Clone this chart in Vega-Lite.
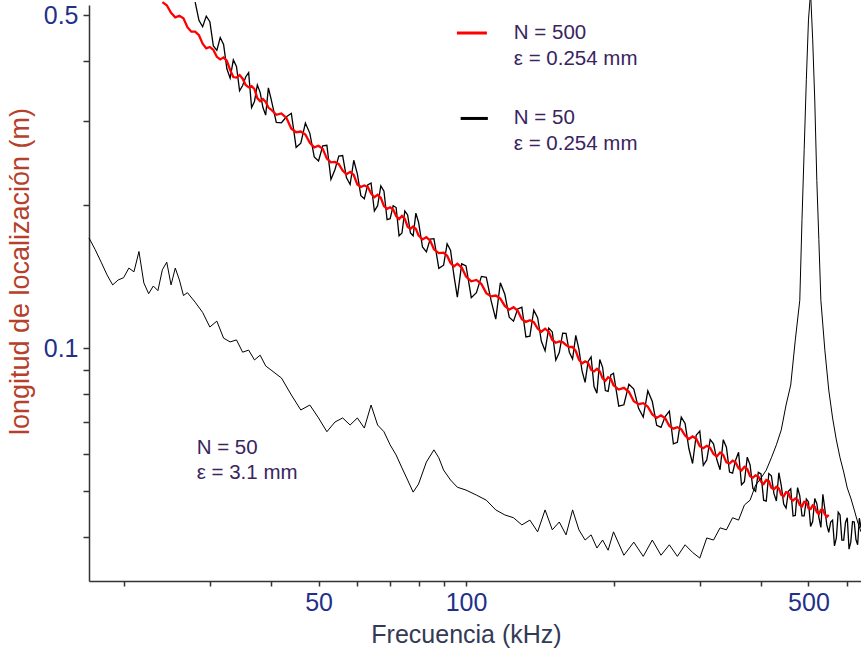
{
  "$schema": "https://vega.github.io/schema/vega-lite/v6.json",
  "width": 772,
  "height": 576,
  "autosize": {"type": "none"},
  "padding": {"left": 89, "top": 5, "right": 0, "bottom": 73},
  "background": "white",
  "config": {"view": {"stroke": null}, "font": "Liberation Sans"},
  "datasets": {
    "red": [
      {"f":24,"L":0.533},{"f":24.5,"L":0.525},{"f":25,"L":0.506},{"f":25.5,"L":0.495},{"f":26,"L":0.499},{"f":26.5,"L":0.493},{"f":27,"L":0.472},{"f":27.5,"L":0.462},{"f":28,"L":0.462},{"f":28.5,"L":0.454},{"f":29,"L":0.436},{"f":29.5,"L":0.426},{"f":30,"L":0.429},{"f":30.5,"L":0.423},{"f":31,"L":0.409},{"f":31.5,"L":0.404},{"f":32,"L":0.408},{"f":32.5,"L":0.401},{"f":33,"L":0.384},{"f":33.5,"L":0.371},{"f":34,"L":0.370},{"f":34.5,"L":0.3745},{"f":35,"L":0.368},{"f":35.5,"L":0.357},{"f":36,"L":0.353},{"f":36.5,"L":0.355},{"f":37,"L":0.350},{"f":37.5,"L":0.335},{"f":38,"L":0.330},{"f":38.5,"L":0.3335},{"f":39,"L":0.329},{"f":39.5,"L":0.320},{"f":40,"L":0.317},{"f":41,"L":0.309},{"f":42,"L":0.311},{"f":43,"L":0.3045},{"f":44,"L":0.289},{"f":45,"L":0.284},{"f":46,"L":0.285},{"f":47,"L":0.281},{"f":48,"L":0.270},{"f":49,"L":0.264},{"f":50,"L":0.266},{"f":51,"L":0.262},{"f":52,"L":0.250},{"f":53,"L":0.2455},{"f":54,"L":0.246},{"f":55,"L":0.2434},{"f":56,"L":0.236},{"f":57,"L":0.2317},{"f":58,"L":0.2345},{"f":59,"L":0.2309},{"f":60,"L":0.2205},{"f":61,"L":0.2179},{"f":62,"L":0.2196},{"f":63,"L":0.2181},{"f":64,"L":0.2113},{"f":65,"L":0.2074},{"f":66,"L":0.2098},{"f":67,"L":0.2067},{"f":68,"L":0.1987},{"f":69,"L":0.1961},{"f":70,"L":0.1975},{"f":71,"L":0.1954},{"f":72,"L":0.1894},{"f":73,"L":0.1866},{"f":74,"L":0.1894},{"f":75,"L":0.1868},{"f":76,"L":0.1798},{"f":77,"L":0.1781},{"f":78,"L":0.180},{"f":79,"L":0.1780},{"f":80,"L":0.1724},{"f":81.5,"L":0.1691},{"f":83,"L":0.1709},{"f":84.5,"L":0.1681},{"f":86,"L":0.1612},{"f":88,"L":0.1583},{"f":90,"L":0.1586},{"f":91.5,"L":0.1563},{"f":93,"L":0.1509},{"f":94.5,"L":0.1484},{"f":96,"L":0.1504},{"f":98,"L":0.1476},{"f":100,"L":0.1413},{"f":102.5,"L":0.1381},{"f":105,"L":0.139},{"f":107.5,"L":0.1363},{"f":110,"L":0.1304},{"f":112.5,"L":0.1284},{"f":115,"L":0.1289},{"f":117.5,"L":0.1270},{"f":120,"L":0.1226},{"f":122.5,"L":0.1204},{"f":125,"L":0.1218},{"f":127.5,"L":0.1198},{"f":130,"L":0.1149},{"f":132.5,"L":0.1135},{"f":135,"L":0.1144},{"f":137.5,"L":0.1133},{"f":140,"L":0.1099},{"f":142.5,"L":0.1082},{"f":145,"L":0.1098},{"f":147.5,"L":0.1082},{"f":150,"L":0.1040},{"f":152.5,"L":0.1026},{"f":155,"L":0.1032},{"f":157.5,"L":0.1029},{"f":160,"L":0.1015},{"f":162.5,"L":0.1005},{"f":165,"L":0.1005},{"f":167.5,"L":0.0985},{"f":170,"L":0.0945},{"f":172.5,"L":0.0928},{"f":175,"L":0.0938},{"f":177.5,"L":0.0930},{"f":180,"L":0.0900},{"f":182.5,"L":0.0893},{"f":185,"L":0.0904},{"f":187.5,"L":0.0893},{"f":190,"L":0.0864},{"f":192.5,"L":0.0853},{"f":195,"L":0.0868},{"f":197.5,"L":0.0862},{"f":200,"L":0.0835},{"f":205,"L":0.0818},{"f":210,"L":0.0825},{"f":215,"L":0.0809},{"f":220,"L":0.0773},{"f":225,"L":0.0762},{"f":230,"L":0.0766},{"f":235,"L":0.0753},{"f":240,"L":0.0725},{"f":245,"L":0.0713},{"f":250,"L":0.0722},{"f":255,"L":0.0712},{"f":260,"L":0.0686},{"f":265,"L":0.0677},{"f":270,"L":0.0682},{"f":275,"L":0.0675},{"f":280,"L":0.0655},{"f":285,"L":0.0644},{"f":290,"L":0.0652},{"f":295,"L":0.0645},{"f":300,"L":0.0622},{"f":305,"L":0.0616},{"f":310,"L":0.0623},{"f":315,"L":0.0617},{"f":320,"L":0.0599},{"f":325,"L":0.0592},{"f":330,"L":0.0603},{"f":335,"L":0.0596},{"f":340,"L":0.0575},{"f":345,"L":0.0572},{"f":350,"L":0.0580},{"f":355,"L":0.0575},{"f":360,"L":0.0559},{"f":365,"L":0.0553},{"f":370,"L":0.0563},{"f":375,"L":0.0557},{"f":380,"L":0.0538},{"f":385,"L":0.0534},{"f":390,"L":0.0540},{"f":395,"L":0.0537},{"f":400,"L":0.0524},{"f":405,"L":0.0518},{"f":410,"L":0.0528},{"f":415,"L":0.0525},{"f":420,"L":0.0509},{"f":425,"L":0.0505},{"f":430,"L":0.0511},{"f":435,"L":0.0507},{"f":440,"L":0.0492},{"f":445,"L":0.0488},{"f":450,"L":0.0498},{"f":455,"L":0.0496},{"f":460,"L":0.0482},{"f":465,"L":0.0478},{"f":470,"L":0.0483},{"f":475,"L":0.0480},{"f":480,"L":0.0468},{"f":485,"L":0.0465},{"f":490,"L":0.0475},{"f":495,"L":0.0474},{"f":500,"L":0.0461},{"f":505,"L":0.0459},{"f":510,"L":0.0467},{"f":515,"L":0.0464},{"f":520,"L":0.0452},{"f":525,"L":0.0448},{"f":530,"L":0.0457},{"f":535,"L":0.0457},{"f":540,"L":0.0447},{"f":545,"L":0.0442},{"f":550,"L":0.0446}
    ],
    "fine": [
      {"f":28,"L":0.533},{"f":28.5,"L":0.488},{"f":29,"L":0.473},{"f":29.5,"L":0.498},{"f":30,"L":0.485},{"f":30.5,"L":0.431},{"f":31,"L":0.422},{"f":31.5,"L":0.449},{"f":32,"L":0.4345},{"f":32.5,"L":0.386},{"f":33,"L":0.369},{"f":33.5,"L":0.403},{"f":34,"L":0.3906},{"f":34.5,"L":0.347},{"f":35,"L":0.356},{"f":35.5,"L":0.371},{"f":36,"L":0.379},{"f":36.5,"L":0.320},{"f":37,"L":0.3296},{"f":37.5,"L":0.357},{"f":38,"L":0.3444},{"f":38.5,"L":0.320},{"f":39,"L":0.3086},{"f":39.5,"L":0.352},{"f":40,"L":0.3339},{"f":41,"L":0.298},{"f":42,"L":0.2973},{"f":43,"L":0.306},{"f":44,"L":0.3112},{"f":45,"L":0.264},{"f":46,"L":0.2694},{"f":47,"L":0.297},{"f":48,"L":0.2825},{"f":49,"L":0.252},{"f":50,"L":0.2471},{"f":51,"L":0.266},{"f":52,"L":0.2666},{"f":53,"L":0.226},{"f":54,"L":0.2369},{"f":55,"L":0.253},{"f":56,"L":0.2537},{"f":57,"L":0.228},{"f":58,"L":0.2205},{"f":59,"L":0.248},{"f":60,"L":0.2323},{"f":61,"L":0.209},{"f":62,"L":0.2059},{"f":63,"L":0.220},{"f":64,"L":0.2222},{"f":65,"L":0.194},{"f":66,"L":0.1991},{"f":67,"L":0.219},{"f":68,"L":0.2135},{"f":69,"L":0.186},{"f":70,"L":0.1869},{"f":71,"L":0.199},{"f":72,"L":0.1973},{"f":73,"L":0.172},{"f":74,"L":0.1744},{"f":75,"L":0.194},{"f":76,"L":0.1904},{"f":77,"L":0.1745},{"f":78,"L":0.1721},{"f":79,"L":0.192},{"f":80,"L":0.1838},{"f":81.5,"L":0.163},{"f":83,"L":0.1592},{"f":84.5,"L":0.1694},{"f":86,"L":0.1697},{"f":88,"L":0.147},{"f":90,"L":0.1493},{"f":91.5,"L":0.1656},{"f":93,"L":0.1603},{"f":94.5,"L":0.1417},{"f":96,"L":0.1279},{"f":98,"L":0.1503},{"f":100,"L":0.1488},{"f":102.5,"L":0.1276},{"f":105,"L":0.1307},{"f":107.5,"L":0.1414},{"f":110,"L":0.1408},{"f":112.5,"L":0.1258},{"f":115,"L":0.1150},{"f":117.5,"L":0.1371},{"f":120,"L":0.1297},{"f":122.5,"L":0.1161},{"f":125,"L":0.1139},{"f":127.5,"L":0.1208},{"f":130,"L":0.1218},{"f":132.5,"L":0.1055},{"f":135,"L":0.1059},{"f":137.5,"L":0.1201},{"f":140,"L":0.1158},{"f":142.5,"L":0.1033},{"f":145,"L":0.0987},{"f":147.5,"L":0.1101},{"f":150,"L":0.1081},{"f":152.5,"L":0.0943},{"f":155,"L":0.0978},{"f":157.5,"L":0.1075},{"f":160,"L":0.1074},{"f":162.5,"L":0.0980},{"f":165,"L":0.0948},{"f":167.5,"L":0.1063},{"f":170,"L":0.0993},{"f":172.5,"L":0.0895},{"f":175,"L":0.0847},{"f":177.5,"L":0.0937},{"f":180,"L":0.0958},{"f":182.5,"L":0.0830},{"f":185,"L":0.0804},{"f":187.5,"L":0.0946},{"f":190,"L":0.0911},{"f":192.5,"L":0.0814},{"f":195,"L":0.0811},{"f":197.5,"L":0.0878},{"f":200,"L":0.0885},{"f":205,"L":0.0755},{"f":210,"L":0.0760},{"f":215,"L":0.0839},{"f":220,"L":0.0820},{"f":225,"L":0.0747},{"f":230,"L":0.0716},{"f":235,"L":0.0813},{"f":240,"L":0.0772},{"f":245,"L":0.0688},{"f":250,"L":0.0681},{"f":255,"L":0.0718},{"f":260,"L":0.0737},{"f":265,"L":0.0629},{"f":270,"L":0.0634},{"f":275,"L":0.0716},{"f":280,"L":0.0694},{"f":285,"L":0.0615},{"f":290,"L":0.0572},{"f":295,"L":0.0656},{"f":300,"L":0.0669},{"f":305,"L":0.0567},{"f":310,"L":0.0582},{"f":315,"L":0.0642},{"f":320,"L":0.0629},{"f":325,"L":0.0583},{"f":330,"L":0.0555},{"f":335,"L":0.0642},{"f":340,"L":0.0619},{"f":345,"L":0.0549},{"f":350,"L":0.0546},{"f":355,"L":0.0581},{"f":360,"L":0.0604},{"f":365,"L":0.0516},{"f":370,"L":0.0524},{"f":375,"L":0.0590},{"f":380,"L":0.0568},{"f":385,"L":0.0507},{"f":390,"L":0.0500},{"f":395,"L":0.0548},{"f":400,"L":0.0544},{"f":405,"L":0.0479},{"f":410,"L":0.0477},{"f":415,"L":0.0545},{"f":420,"L":0.0539},{"f":425,"L":0.0495},{"f":430,"L":0.0477},{"f":435,"L":0.0547},{"f":440,"L":0.0514},{"f":445,"L":0.0470},{"f":450,"L":0.0461},{"f":455,"L":0.0500},{"f":460,"L":0.0506},{"f":465,"L":0.0444},{"f":470,"L":0.0445},{"f":475,"L":0.0509},{"f":480,"L":0.0489},{"f":485,"L":0.0444},{"f":490,"L":0.0444},{"f":495,"L":0.0482},{"f":500,"L":0.0475},{"f":505,"L":0.0422},{"f":510,"L":0.0432},{"f":515,"L":0.0483},{"f":520,"L":0.0471},{"f":525,"L":0.0441},{"f":530,"L":0.0420},{"f":535,"L":0.0493},{"f":540,"L":0.0459},{"f":545,"L":0.0425},{"f":550,"L":0.0410},{"f":555,"L":0.0431},{"f":560,"L":0.0435},{"f":565,"L":0.0384},{"f":570,"L":0.0399},{"f":575,"L":0.0452},{"f":580,"L":0.0446},{"f":585,"L":0.0395},{"f":590,"L":0.0395},{"f":595,"L":0.0430},{"f":600,"L":0.0440},{"f":605,"L":0.0378},{"f":610,"L":0.0391},{"f":615,"L":0.0432},{"f":620,"L":0.0431},{"f":625,"L":0.0396},{"f":630,"L":0.0386},{"f":635,"L":0.0439},{"f":640,"L":0.0419}
    ],
    "coarse": [
      {"f":17,"L":0.1703},{"f":17.5,"L":0.161},{"f":18,"L":0.1515},{"f":18.5,"L":0.1425},{"f":19,"L":0.1357},{"f":19.5,"L":0.139},{"f":20,"L":0.1405},{"f":20.5,"L":0.1472},{"f":21,"L":0.1446},{"f":21.5,"L":0.1595},{"f":22,"L":0.1370},{"f":22.5,"L":0.1301},{"f":23,"L":0.1350},{"f":23.5,"L":0.132},{"f":24,"L":0.146},{"f":24.5,"L":0.1515},{"f":25,"L":0.1357},{"f":25.5,"L":0.1472},{"f":26,"L":0.139},{"f":26.5,"L":0.1289},{"f":27,"L":0.1307},{"f":28,"L":0.1248},{"f":29,"L":0.1188},{"f":30,"L":0.1107},{"f":31,"L":0.1139},{"f":32,"L":0.1049},{"f":33,"L":0.1030},{"f":34,"L":0.104},{"f":35,"L":0.0980},{"f":36,"L":0.099},{"f":37,"L":0.0944},{"f":38,"L":0.0966},{"f":39,"L":0.0917},{"f":40,"L":0.0899},{"f":42,"L":0.0865},{"f":44,"L":0.0797},{"f":46,"L":0.0741},{"f":48,"L":0.0759},{"f":50,"L":0.0713},{"f":52,"L":0.0667},{"f":54,"L":0.0699},{"f":56,"L":0.0713},{"f":58,"L":0.0689},{"f":60,"L":0.0713},{"f":62,"L":0.0679},{"f":64,"L":0.0759},{"f":66,"L":0.0689},{"f":68,"L":0.0667},{"f":70,"L":0.0626},{"f":72,"L":0.0596},{"f":74,"L":0.0560},{"f":76,"L":0.0528},{"f":78,"L":0.0498},{"f":80,"L":0.0518},{"f":83,"L":0.0576},{"f":86,"L":0.0611},{"f":88,"L":0.0588},{"f":90,"L":0.0554},{"f":93,"L":0.0528},{"f":96,"L":0.0510},{"f":100,"L":0.0503},{"f":105,"L":0.0491},{"f":110,"L":0.0479},{"f":115,"L":0.0457},{"f":120,"L":0.0446},{"f":125,"L":0.0440},{"f":130,"L":0.0425},{"f":135,"L":0.0435},{"f":140,"L":0.0411},{"f":145,"L":0.0457},{"f":150,"L":0.0415},{"f":155,"L":0.0431},{"f":160,"L":0.0405},{"f":165,"L":0.0457},{"f":170,"L":0.0415},{"f":175,"L":0.0395},{"f":180,"L":0.0405},{"f":185,"L":0.0380},{"f":190,"L":0.0395},{"f":195,"L":0.0376},{"f":200,"L":0.0411},{"f":210,"L":0.0367},{"f":220,"L":0.0391},{"f":230,"L":0.0365},{"f":240,"L":0.0395},{"f":250,"L":0.0367},{"f":260,"L":0.0386},{"f":270,"L":0.0365},{"f":280,"L":0.0386},{"f":290,"L":0.0372},{"f":300,"L":0.0362},{"f":310,"L":0.0399},{"f":320,"L":0.0395},{"f":330,"L":0.0419},{"f":340,"L":0.0415},{"f":350,"L":0.0440},{"f":360,"L":0.0435},{"f":370,"L":0.0468},{"f":380,"L":0.0479},{"f":390,"L":0.0515},{"f":400,"L":0.0533},{"f":410,"L":0.0554},{"f":420,"L":0.0588},{"f":430,"L":0.0626},{"f":440,"L":0.0673},{"f":450,"L":0.0759},{"f":460,"L":0.0836},{"f":470,"L":0.104},{"f":480,"L":0.126},{"f":485,"L":0.186},{"f":490,"L":0.261},{"f":495,"L":0.366},{"f":500,"L":0.489},{"f":505,"L":0.56},{"f":510,"L":0.444},{"f":515,"L":0.332},{"f":520,"L":0.225},{"f":525,"L":0.169},{"f":530,"L":0.126},{"f":540,"L":0.099},{"f":550,"L":0.0816},{"f":560,"L":0.0713},{"f":570,"L":0.0641},{"f":580,"L":0.0588},{"f":590,"L":0.0549},{"f":600,"L":0.0508},{"f":610,"L":0.0484},{"f":620,"L":0.0457},{"f":630,"L":0.0431},{"f":640,"L":0.0411}
    ],
    "swatch": [
      {"k":"red","f":95.8,"f2":110.3,"L":0.459},
      {"k":"black","f":97.5,"f2":110.8,"L":0.3036}
    ],
    "notes": [
      {"f":125.2,"L":0.459,"t":"N = 500"},
      {"f":125.2,"L":0.405,"t":"ε = 0.254 mm"},
      {"f":125.2,"L":0.304,"t":"N = 50"},
      {"f":125.2,"L":0.268,"t":"ε = 0.254 mm"},
      {"f":28.2,"L":0.0618,"t":"N = 50"},
      {"f":28.2,"L":0.0545,"t":"ε = 3.1 mm"}
    ]
  },
  "encoding": {
    "x": {
      "field": "f", "type": "quantitative",
      "scale": {"type": "log", "domain": [17, 640], "nice": false},
      "axis": {
        "title": "Frecuencia (kHz)",
        "values": [20,30,40,50,60,70,80,90,100,200,300,400,500,600],
        "labelExpr": "datum.value == 50 ? '50' : datum.value == 100 ? '100' : datum.value == 500 ? '500' : ''",
        "grid": false, "domainColor": "#333333", "domainWidth": 1.5,
        "tickColor": "#333333", "tickWidth": 1.5, "tickSize": 5,
        "labelFontSize": 25, "labelColor": "#22308a", "labelPadding": 4,
        "labelFont": "Liberation Sans", "labelFlush": false, "labelOverlap": false,
        "titleFontSize": 25, "titleFontWeight": "normal", "titleColor": "#333a55",
        "titleFont": "Liberation Sans", "titleX": 377, "titleY": 61, "titleBaseline": "alphabetic"
      }
    },
    "y": {
      "field": "L", "type": "quantitative",
      "scale": {"type": "log", "domain": [0.0324, 0.5256], "nice": false},
      "axis": {
        "title": "longitud de localización (m)",
        "values": [0.04,0.05,0.06,0.07,0.08,0.09,0.1,0.2,0.3,0.4,0.5],
        "labelExpr": "datum.value == 0.1 ? '0.1' : datum.value == 0.5 ? '0.5' : ''",
        "grid": false, "domainColor": "#333333", "domainWidth": 1.5,
        "tickColor": "#333333", "tickWidth": 1.5, "tickSize": 6,
        "labelFontSize": 25, "labelColor": "#22308a", "labelPadding": 5,
        "labelFont": "Liberation Sans", "labelFlush": false, "labelOverlap": false,
        "titleFontSize": 27, "titleFontWeight": "normal", "titleColor": "#b5412c",
        "titleFont": "Liberation Sans", "titleX": -61, "titleY": 266,
        "titleBaseline": "alphabetic", "titleAngle": 270
      }
    }
  },
  "layer": [
    {"data": {"name": "fine"}, "mark": {"type": "line", "color": "#000000", "strokeWidth": 1.3}},
    {"data": {"name": "red"}, "mark": {"type": "line", "color": "#ff0000", "strokeWidth": 2.3}},
    {"data": {"name": "coarse"}, "mark": {"type": "line", "color": "#000000", "strokeWidth": 1}},
    {"data": {"name": "swatch"}, "transform": [{"filter": "datum.k == 'red'"}],
     "mark": {"type": "rule", "color": "#ff0000", "strokeWidth": 3},
     "encoding": {"x2": {"field": "f2"}}},
    {"data": {"name": "swatch"}, "transform": [{"filter": "datum.k == 'black'"}],
     "mark": {"type": "rule", "color": "#000000", "strokeWidth": 3},
     "encoding": {"x2": {"field": "f2"}}},
    {"data": {"name": "notes"},
     "mark": {"type": "text", "align": "left", "baseline": "middle", "fontSize": 20.5, "color": "#3a2460", "font": "Liberation Sans"},
     "encoding": {"text": {"field": "t"}}}
  ]
}
